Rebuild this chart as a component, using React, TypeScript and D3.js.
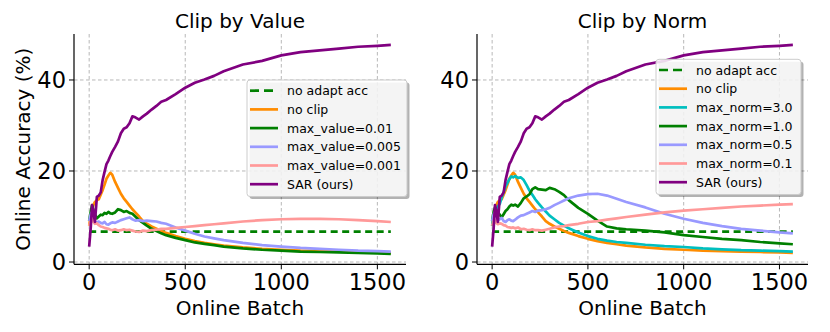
import React from "react";
import * as d3 from "d3";

// online batch index at which each curve was sampled
const batches = [0, 8, 15, 22, 30, 40, 50, 60, 70, 80, 90, 100, 110, 120, 135, 150, 165, 180, 195, 210, 225, 240, 260, 280, 300, 325, 350, 375, 400, 450, 500, 550, 600, 650, 700, 800, 900, 1000, 1100, 1200, 1300, 1400, 1500, 1570];

const noAdaptAcc = 6.7;
const noAdaptRange = [0, 1570];

const sarAcc = [3.4, 7.5, 12.5, 11.0, 8.8, 14.3, 14.6, 15.3, 18.0, 19.8, 21.5, 22.3, 23.3, 24.2, 25.3, 26.5, 28.3, 29.3, 29.6, 30.5, 32.0, 31.8, 31.3, 32.0, 32.6, 33.5, 34.3, 35.2, 35.6, 36.9, 38.3, 39.4, 40.1, 40.9, 41.9, 43.4, 44.2, 45.4, 46.1, 46.5, 46.9, 47.3, 47.5, 47.7];
const noClipAcc = [8.0, 10.0, 11.5, 12.5, 13.2, 13.6, 13.8, 14.8, 15.8, 17.0, 18.3, 19.0, 19.6, 19.2, 17.6, 16.3, 15.0, 14.0, 13.2, 12.4, 11.6, 10.9, 10.0, 9.0, 8.4, 7.8, 7.3, 6.8, 6.4, 5.7, 5.1, 4.6, 4.2, 3.9, 3.6, 3.2, 2.9, 2.7, 2.5, 2.4, 2.3, 2.2, 2.1, 2.0];

// clip by value
const maxValue001 = [9.0, 11.0, 12.5, 11.5, 10.5, 9.6, 10.0, 10.4, 10.3, 10.8, 10.6, 11.0, 10.7, 10.6, 10.9, 11.6, 11.4, 11.0, 11.2, 10.8, 10.6, 10.0, 9.2, 8.6, 8.0, 7.3, 6.8, 6.3, 5.9, 5.3, 4.8, 4.3, 4.0, 3.7, 3.4, 3.0, 2.7, 2.5, 2.3, 2.2, 2.1, 2.0, 1.9, 1.8];
const maxValue0005 = [9.0, 10.5, 11.0, 9.5, 8.8, 8.7, 8.9, 8.6, 8.5, 8.8, 8.3, 8.2, 8.5, 8.7, 8.6, 8.9, 9.2, 9.4, 9.6, 9.8, 9.4, 9.1, 9.2, 9.0, 9.1, 9.0, 8.9, 8.6, 8.4, 7.6, 6.9, 6.2, 5.6, 5.2, 4.8, 4.2, 3.7, 3.4, 3.1, 2.9, 2.7, 2.5, 2.4, 2.3];
const maxValue0001 = [8.0, 9.0, 9.5, 8.8, 8.4, 8.5, 8.1, 7.8, 7.7, 7.5, 7.4, 7.3, 7.1, 7.0, 7.2, 6.9, 7.0, 7.2, 7.0, 7.1, 6.9, 6.7, 6.6, 6.9, 6.8, 7.0, 7.1, 7.3, 7.3, 7.5, 7.7, 7.9, 8.1, 8.3, 8.5, 8.9, 9.2, 9.4, 9.5, 9.5, 9.4, 9.2, 9.0, 8.8];

// clip by norm
const maxNorm30 = [8.0, 10.0, 11.5, 11.8, 12.2, 12.8, 14.2, 15.3, 16.6, 17.4, 18.2, 18.8, 18.6, 18.9, 18.5, 18.6, 18.0, 16.9, 15.7, 14.8, 13.8, 13.0, 12.0, 11.1, 10.2, 9.4, 8.6, 8.0, 7.4, 6.5, 5.7, 5.1, 4.7, 4.4, 4.2, 3.8, 3.5, 3.3, 3.0, 2.8, 2.6, 2.5, 2.4, 2.3];
const maxNorm10 = [9.0, 11.0, 12.0, 11.5, 11.0, 10.4, 9.8, 10.5, 11.2, 11.6, 12.2, 12.6, 12.4, 12.6, 12.2, 13.0, 14.0, 14.4, 14.9, 16.0, 16.4, 16.0, 15.9, 15.8, 16.3, 16.0, 15.4, 14.7, 13.6, 11.9, 10.6, 9.1, 7.8, 7.4, 7.2, 6.9, 6.5, 5.9, 5.5, 5.1, 4.8, 4.4, 4.1, 3.9];
const maxNorm05 = [9.0, 10.5, 11.0, 10.0, 9.2, 9.4, 9.7, 9.0, 8.8, 9.2, 9.4, 9.1, 9.0, 9.3, 9.8, 10.2, 10.3, 10.6, 10.9, 11.2, 11.0, 11.3, 11.4, 11.6, 11.9, 12.5, 13.0, 13.5, 14.0, 14.6, 14.9, 15.0, 14.6, 13.9, 13.2, 12.0, 10.6, 9.5, 8.6, 7.9, 7.3, 6.9, 6.5, 6.3];
const maxNorm01 = [8.0, 9.0, 9.3, 8.6, 8.3, 8.5, 8.4, 8.1, 8.0, 7.7, 7.6, 7.5, 7.6, 7.4, 7.6, 7.2, 7.3, 7.1, 7.0, 7.2, 7.0, 7.0, 6.9, 7.1, 7.3, 7.6, 7.8, 7.9, 8.1, 8.4, 8.8, 9.0, 9.3, 9.6, 9.9, 10.4, 10.9, 11.3, 11.6, 11.9, 12.2, 12.4, 12.6, 12.7];

const xTicks = [0, 500, 1000, 1500];
const yTicks = [0, 20, 40];

type Series = { label: string; values: number[] | null; color: string; dashed?: boolean };

const valueSeries: Series[] = [
  { label: "no adapt acc", values: null, color: "#008000", dashed: true },
  { label: "no clip", values: noClipAcc, color: "#ff8c00" },
  { label: "max_value=0.01", values: maxValue001, color: "#008000" },
  { label: "max_value=0.005", values: maxValue0005, color: "#9999ff" },
  { label: "max_value=0.001", values: maxValue0001, color: "#ff9999" },
  { label: "SAR (ours)", values: sarAcc, color: "#800080" },
];

const normSeries: Series[] = [
  { label: "no adapt acc", values: null, color: "#008000", dashed: true },
  { label: "no clip", values: noClipAcc, color: "#ff8c00" },
  { label: "max_norm=3.0", values: maxNorm30, color: "#00bfbf" },
  { label: "max_norm=1.0", values: maxNorm10, color: "#008000" },
  { label: "max_norm=0.5", values: maxNorm05, color: "#9999ff" },
  { label: "max_norm=0.1", values: maxNorm01, color: "#ff9999" },
  { label: "SAR (ours)", values: sarAcc, color: "#800080" },
];

const font = "DejaVu Sans, sans-serif";
const top = 34;
const bottom = 264.3;
const lw = 2.7;

function Panel({ title, series, left, right, yLabel, legendX, legendY, legendW }: {
  title: string; series: Series[]; left: number; right: number; yLabel?: string;
  legendX: number; legendY: number; legendW: number;
}) {
  const x = d3.scaleLinear().domain([-79, 1649]).range([left, right]);
  const y = d3.scaleLinear().domain([-0.5, 50.1]).range([bottom, top]);
  const line = d3.line<number>().x((d, i) => x(batches[i])).y(d => y(d));
  const rowH = 18.7;
  const legendH = series.length * rowH + 4.3;

  return (
    <g>
      {/* grid */}
      {xTicks.map(t => (
        <line key={"gx" + t} x1={x(t)} x2={x(t)} y1={top} y2={bottom} stroke="#b0b0b0" strokeWidth={0.9} strokeDasharray="3.5,2.5" />
      ))}
      {yTicks.map(t => (
        <line key={"gy" + t} x1={left} x2={right} y1={y(t)} y2={y(t)} stroke="#b0b0b0" strokeWidth={0.9} strokeDasharray="3.5,2.5" />
      ))}

      {/* curves */}
      {series.map(s =>
        s.values ? (
          <path key={s.label} d={line(s.values) || ""} fill="none" stroke={s.color} strokeWidth={lw} strokeLinejoin="round" />
        ) : (
          <line key={s.label} x1={x(noAdaptRange[0])} x2={x(noAdaptRange[1])} y1={y(noAdaptAcc)} y2={y(noAdaptAcc)}
            stroke={s.color} strokeWidth={lw} strokeDasharray="7,4.5" />
        )
      )}

      {/* spines */}
      <line x1={left} x2={left} y1={top} y2={bottom} stroke="black" strokeWidth={1.2} />
      <line x1={left} x2={right} y1={bottom} y2={bottom} stroke="black" strokeWidth={1.2} />

      {/* ticks */}
      {xTicks.map(t => (
        <g key={"tx" + t}>
          <line x1={x(t)} x2={x(t)} y1={bottom} y2={bottom + 5} stroke="black" strokeWidth={1} />
          <text x={x(t)} y={290} textAnchor="middle" fontSize={22.5} fontFamily={font}>{t}</text>
        </g>
      ))}
      {yTicks.map(t => (
        <g key={"ty" + t}>
          <line x1={left - 5} x2={left} y1={y(t)} y2={y(t)} stroke="black" strokeWidth={1} />
          <text x={left - 8} y={y(t)} dy="0.36em" textAnchor="end" fontSize={22.5} fontFamily={font}>{t}</text>
        </g>
      ))}

      <text x={(left + right) / 2} y={28} textAnchor="middle" fontSize={20} fontFamily={font}>{title}</text>
      <text x={(left + right) / 2} y={315} textAnchor="middle" fontSize={20} fontFamily={font}>Online Batch</text>
      {yLabel && (
        <text transform={`translate(30,${(top + bottom) / 2}) rotate(-90)`} textAnchor="middle" fontSize={20} fontFamily={font}>{yLabel}</text>
      )}

      {/* legend */}
      <rect x={legendX + 2.5} y={legendY + 2.5} width={legendW} height={legendH} rx={3} fill="rgba(0,0,0,0.3)" />
      <rect x={legendX} y={legendY} width={legendW} height={legendH} rx={3} fill="white" fillOpacity={0.85} stroke="#cccccc" strokeWidth={1} />
      {series.map((s, i) => {
        const ry = legendY + 10.7 + i * rowH;
        return (
          <g key={"lg" + s.label}>
            <line x1={legendX + 3} x2={legendX + 31} y1={ry} y2={ry} stroke={s.color} strokeWidth={lw}
              strokeDasharray={s.dashed ? "9,5" : undefined} />
            <text x={legendX + 40} y={ry} dy="0.36em" fontSize={12.5} fontFamily={font}>{s.label}</text>
          </g>
        );
      })}
    </g>
  );
}

export default function App() {
  return (
    <svg width={830} height={332} style={{ position: "absolute", left: 0, top: 0, background: "white" }}>
      <Panel title="Clip by Value" series={valueSeries} left={74} right={406} yLabel="Online Accuracy (%)"
        legendX={247} legendY={80} legendW={160} />
      <Panel title="Clip by Norm" series={normSeries} left={477} right={808}
        legendX={656} legendY={59.3} legendW={145} />
    </svg>
  );
}
